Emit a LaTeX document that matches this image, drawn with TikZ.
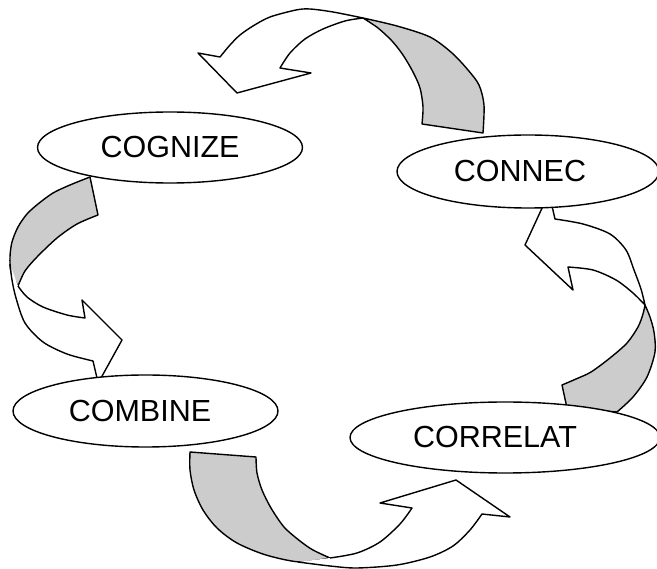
\documentclass[tikz,border=0pt]{standalone}
\usepackage{fontspec}
\setmainfont{Liberation Sans}
\usetikzlibrary{shapes.geometric}
\definecolor{bandgray}{RGB}{204,204,204}
\begin{document}
\begin{tikzpicture}[x=1pt,y=-1pt,line width=1.4pt,line join=round,
  backband/.style={draw=black,fill=bandgray},
  frontband/.style={draw=black,fill=white},
  oval/.style={ellipse,draw=black,fill=white,inner sep=0pt,
    font=\fontsize{30.5}{36}\selectfont}]
\useasboundingbox (0,0) rectangle (657,569);

% ---- top arrow (CONNEC -> COGNIZE)
\draw[backband] plot[smooth] coordinates {(363,18) (397,26) (430,37) (452,53) (468,70) (479,85) (484,105) (483,133)}
  -- plot[smooth] coordinates {(422,124) (423,107) (420,88) (413,72) (403,55) (392,41) (378,28) (363,18)} -- cycle;
\draw[frontband] plot[smooth] coordinates {(363,18) (333,12) (310,9) (296,10) (270,17) (253,26) (240,35) (230,45) (220,57)}
  -- (198,53) -- (237,93) -- (311,73) -- (280,68)
  -- plot[smooth] coordinates {(280,68) (290,53) (305,39) (323,29) (345,21) (363,18)} -- cycle;

% ---- left arrow (COGNIZE -> COMBINE)
\draw[backband] plot[smooth] coordinates {(90,177) (70,185) (53,193) (38,204) (27,214) (18,227) (12,242) (10,257) (11,272) (18,286)}
  -- plot[smooth] coordinates {(18,286) (25,271) (37,257) (57,238) (77,224) (98,215)} -- cycle;
\filldraw[frontband] plot[smooth] coordinates {(10,264) (12,280) (16,298) (25,323) (43,342) (67,354) (93,361)}
  -- (97,378) -- (101,378) -- (122,340) -- (82,300) -- (85,318)
  -- plot[smooth] coordinates {(85,318) (67,315) (43,307) (27,297) (18,286)};

% ---- bottom arrow (COMBINE -> CORRELAT)
\draw[backband] plot[smooth] coordinates {(190,452) (190,470) (194,490) (203,510) (217,528) (237,543) (266,555) (300,562) (330,558)}
  -- plot[smooth] coordinates {(330,558) (313,550) (300,541) (284,527) (271,508) (262,490) (257,473) (256,457)} -- cycle;
\filldraw[frontband] plot[smooth] coordinates {(298,562) (330,566) (357,568) (397,565) (430,557) (453,546) (470,530) (482,514)}
  -- (510,517) -- (456,480) -- (380,503) -- (412,508)
  -- plot[smooth] coordinates {(412,508) (400,524) (380,542) (357,553) (330,558)};

% ---- right arrow (CORRELAT -> CONNEC)
\draw[backband] plot[smooth] coordinates {(562,385) (576,379) (591,372) (610,358) (627,343) (638,327) (643,314) (645,305)}
  -- plot[smooth] coordinates {(645,305) (650,317) (654,332) (655,352) (647,377) (633,397) (617,412)}
  -- (567,408) -- cycle;
\draw[frontband] plot[smooth] coordinates {(645,305) (641,289) (634,270) (626,250) (610,234) (583,224) (555,219)}
  -- (552,206) -- (543,206) -- (525,245) -- (573,290) -- (568,267)
  -- plot[smooth] coordinates {(568,267) (593,270) (616,280) (633,293) (645,305)} -- cycle;

% ---- ovals
\node[oval,minimum width=265pt,minimum height=71pt] (cognize) at (170,147.5) {COGNIZE};
\node[oval,minimum width=262pt,minimum height=73pt] (connec) at (528,171.5) {CONNEC\hspace*{16pt}};
\node[oval,minimum width=265pt,minimum height=72pt] (combine) at (145.5,411) {COMBINE\hspace*{11pt}};
\node[oval,minimum width=310pt,minimum height=71pt] (correlat) at (505,437.5) {CORRELAT\hspace*{20pt}};
\end{tikzpicture}
\end{document}
